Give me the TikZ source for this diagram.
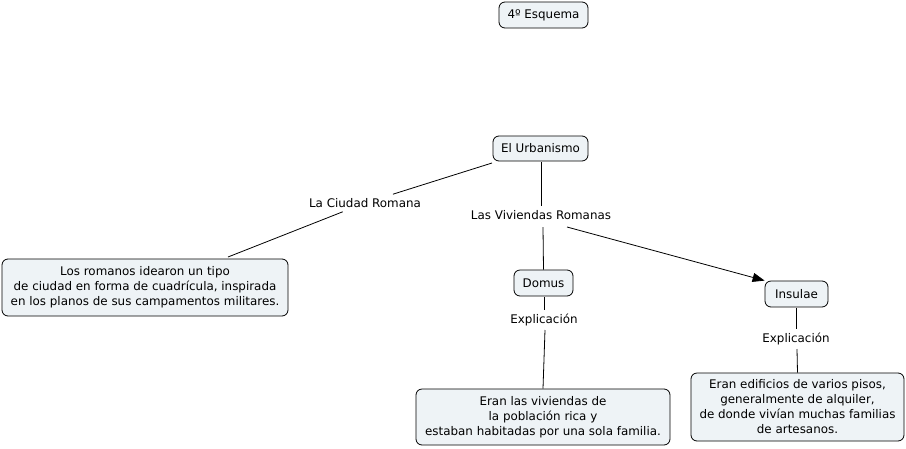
\documentclass[tikz,border=0pt]{standalone}
\usepackage{fontspec}
\setmainfont{DejaVu Sans}
\usetikzlibrary{arrows.meta}
\definecolor{boxfill}{HTML}{EEF3F6}
\tikzset{
  concept/.style={draw=black, line width=0.8pt, fill=boxfill, rounded corners=6pt, align=center, font=\fontsize{11.9}{15}\selectfont, inner sep=0pt},
  lbl/.style={fill=white, align=center, font=\fontsize{11.9}{15}\selectfont, inner xsep=2pt, inner ysep=4pt},
  conn/.style={line width=0.8pt, black},
}
\begin{document}
\begin{tikzpicture}[x=1pt,y=-1pt]
\useasboundingbox (0,0) rectangle (906,448);
\node[concept, minimum width=89pt, minimum height=26pt] (esq) at (543.5,15) {4º Esquema};
\node[concept, minimum width=95pt, minimum height=25pt] (urb) at (540.5,148.5) {El Urbanismo};
\node[concept, minimum width=286pt, minimum height=57pt] (rom) at (145,287.5) {Los romanos idearon un tipo\\de ciudad en forma de cuadrícula, inspirada\\en los planos de sus campamentos militares.};
\node[concept, minimum width=59pt, minimum height=26pt] (dom) at (543.5,283) {Domus};
\node[concept, minimum width=63pt, minimum height=26pt] (ins) at (796.5,294) {Insulae};
\node[concept, minimum width=254pt, minimum height=56pt] (domt) at (543,417) {Eran las viviendas de\\la población rica y\\estaban habitadas por una sola familia.};
\node[concept, minimum width=213pt, minimum height=68pt] (inst) at (797.5,407) {Eran edificios de varios pisos,\\generalmente de alquiler,\\de donde vivían muchas familias\\de artesanos.};
\node[lbl] (lcr) at (365,203) {La Ciudad Romana};
\node[lbl] (lvr) at (541,215) {Las Viviendas Romanas};
\node[lbl] (ex1) at (544,320) {Explicación};
\node[lbl] (ex2) at (796,339) {Explicación};
\coordinate (u1) at (492,163);
\coordinate (u2) at (541,162);
\coordinate (r1) at (228,257);
\coordinate (l1) at (543,227);
\coordinate (l2) at (567,227);
\coordinate (d1) at (544,297);
\coordinate (d2) at (545,330);
\coordinate (i1) at (796,308);
\coordinate (i2) at (797,349);
\draw[conn] (u1) -- (lcr);
\draw[conn] (lcr) -- (r1);
\draw[conn] (u2) -- (lvr.north);
\draw[conn] (l1) -- (dom.north);
\draw[conn, -{Triangle[length=12pt,width=9pt]}] (l2) -- (ins.north west);
\draw[conn] (d1) -- (ex1.north);
\draw[conn] (d2) -- (domt.north);
\draw[conn] (i1) -- (ex2.north);
\draw[conn] (i2) -- (inst.north);
\end{tikzpicture}
\end{document}
